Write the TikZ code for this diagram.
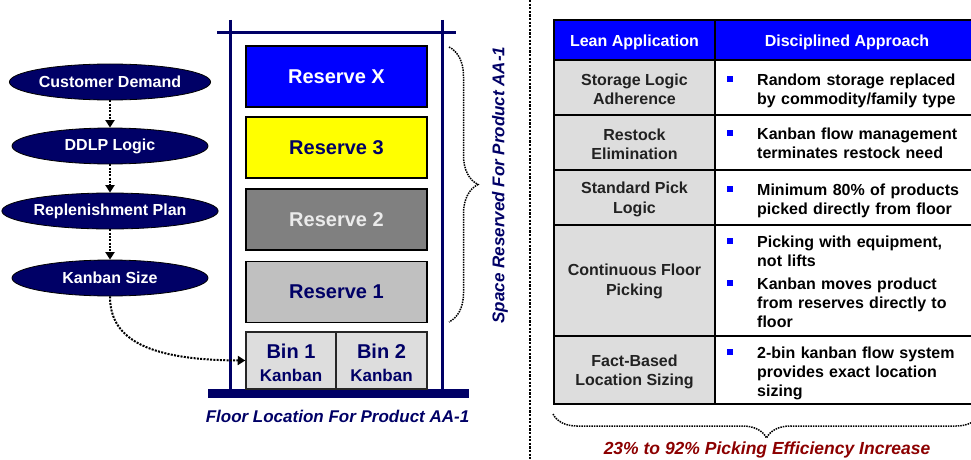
\documentclass[tikz,border=0pt]{standalone}
\usepackage{fontspec}
\setmainfont{Liberation Sans}
\usetikzlibrary{shapes.geometric,arrows.meta,decorations.pathreplacing}
\definecolor{navy}{RGB}{0,0,102}
\definecolor{pureblue}{RGB}{0,0,255}
\definecolor{ltgray}{RGB}{221,221,221}
\definecolor{midgray}{RGB}{128,128,128}
\definecolor{silver}{RGB}{192,192,192}
\definecolor{paleink}{RGB}{235,235,235}
\definecolor{dkred}{RGB}{140,0,0}
\definecolor{cellink}{RGB}{34,34,34}
\definecolor{shelfyellow}{RGB}{255,255,0}

\begin{document}
\begin{tikzpicture}[x=1pt,y=-1pt,
  stage/.style={ellipse, draw=black, line width=0.8pt, fill=navy, minimum width=196pt,
    minimum height=36pt, inner sep=0pt, text=white, font=\bfseries\fontsize{16}{19}\selectfont},
  flow/.style={line width=2pt, dash pattern=on 2pt off 1.3pt,
    -{Triangle[width=9pt,length=7.5pt]}},
  post/.style={navy, line width=3pt},
  shelf/.style={draw=black, line width=1.5pt, minimum width=181pt, minimum height=61pt,
    inner sep=0pt, font=\bfseries\fontsize{20}{24}\selectfont},
  bin/.style={draw=black!85, line width=1.5pt, fill=ltgray, minimum height=57pt, inner sep=0pt},
  bintext/.style={text=navy, align=center, inner sep=0pt,
    font=\bfseries\fontsize{17}{23}\selectfont},
  caption/.style={text=navy, font=\bfseries\itshape\fontsize{17}{20}\selectfont},
  dotbrace/.style={decorate, line width=1.5pt, dash pattern=on 1.5pt off 1pt},
  hcell/.style={draw=black, line width=1.5pt, fill=pureblue, inner sep=0pt,
    minimum height=40pt},
  htext/.style={text=white, inner sep=0pt, font=\bfseries\fontsize{16}{19}\selectfont},
  lcell/.style={draw=black, line width=1.5pt, fill=ltgray, inner sep=0pt, minimum width=161pt},
  ltext/.style={text=cellink, inner sep=0pt, align=center,
    font=\bfseries\fontsize{16}{19.5}\selectfont},
  rcell/.style={draw=black, line width=1.5pt, fill=white, minimum width=264pt, inner sep=0pt},
  bul/.style={fill=pureblue, minimum size=6.5pt, inner sep=0pt},
  itm/.style={anchor=base west, align=left, text width=215pt, inner sep=0pt,
    font=\bfseries\fontsize{16}{19.3}\selectfont}
]
\useasboundingbox (0,0) rectangle (971,460);

% ---- planning chain ----
\node[stage] (cd) at (110,82) {Customer Demand};
\node[stage] (dl) at (110,146) {DDLP Logic};
\node[stage] (rp) at (110,211) {Replenishment Plan};
\node[stage] (ks) at (110,278) {Kanban Size};
\draw[flow] (cd) -- (dl);
\draw[flow] (dl) -- (rp);
\draw[flow] (rp) -- (ks);

% ---- rack frame ----
\draw[post] (230,20) -- (230,390);
\draw[post] (442,20) -- (442,390);
\draw[post] (217,33) -- (456,33);
\fill[navy] (208,389) rectangle (469,398);

% ---- reserve locations ----
\node[shelf, fill=pureblue, text=white] (rx) at (336.5,76.5) {Reserve X};
\node[shelf, fill=shelfyellow, text=navy] (r3) at (336.5,147.5) {Reserve 3};
\node[shelf, fill=midgray, text=paleink] (r2) at (336.5,219.5) {Reserve 2};
\node[shelf, fill=silver, text=navy] (r1) at (336.5,292) {Reserve 1};

% ---- floor bins ----
\node[bin, minimum width=90pt] (b1) at (291,360.5) {};
\node[bin, minimum width=91pt] (b2) at (381.5,360.5) {};
\node[bintext] (lb1) at ([yshift=-2.5pt]b1.center) {{\fontsize{20}{23}\selectfont Bin 1}\\Kanban};
\node[bintext] (lb2) at ([yshift=-2.5pt]b2.center) {{\fontsize{20}{23}\selectfont Bin 2}\\Kanban};

\draw[flow] (ks.south) .. controls (110,335) and (140,360) .. (b1.west);

% ---- labels around the rack ----
\draw[dotbrace, decoration={brace, amplitude=29pt}] (449,47) -- (449,322);
\node[caption, rotate=90] (spc) at (500,185) {Space Reserved For Product AA-1};
\node[caption] (flr) at (337.5,416) {Floor Location For Product AA-1};

% ---- divider ----
\draw[line width=2.2pt, dash pattern=on 2.2pt off 1.4pt] (530,0) -- (530,460);

% ---- table: cells ----
\node[hcell, minimum width=161pt] (h1) at (634.5,40) {};
\node[hcell, minimum width=264pt] (h2) at (847,40) {};
\node[lcell, minimum height=55pt] (a1) at (634.5,87.5) {};
\node[rcell, minimum height=55pt] (c1) at (847,87.5) {};
\node[lcell, minimum height=55pt] (a2) at (634.5,142.5) {};
\node[rcell, minimum height=55pt] (c2) at (847,142.5) {};
\node[lcell, minimum height=55pt] (a3) at (634.5,197.5) {};
\node[rcell, minimum height=55pt] (c3) at (847,197.5) {};
\node[lcell, minimum height=111pt] (a4) at (634.5,280.5) {};
\node[rcell, minimum height=111pt] (c4) at (847,280.5) {};
\node[lcell, minimum height=68pt] (a5) at (634.5,370) {};
\node[rcell, minimum height=68pt] (c5) at (847,370) {};

% ---- table: headings and first column ----
\node[htext] (lh1) at ([yshift=-2pt]h1.center) {Lean Application};
\node[htext] (lh2) at ([yshift=-2pt]h2.center) {Disciplined Approach};
\node[ltext] (la1) at ([yshift=-2pt]a1.center) {Storage Logic\\Adherence};
\node[ltext] (la2) at ([yshift=-2pt]a2.center) {Restock\\Elimination};
\node[ltext] (la3) at ([yshift=-2pt]a3.center) {Standard Pick\\Logic};
\node[ltext] (la4) at ([yshift=-1pt]a4.center) {Continuous Floor\\Picking};
\node[ltext] (la5) at ([yshift=-2pt]a5.center) {Fact-Based\\Location Sizing};

% ---- table: bulleted second column ----
\node[bul] (p1) at (730,79) {};
\node[itm] (t1) at (757,85) {Random storage replaced\\by commodity/family type};
\node[bul] (p2) at (730,133) {};
\node[itm] (t2) at (757,139) {Kanban flow management\\terminates restock need};
\node[bul] (p3) at (730,189) {};
\node[itm] (t3) at (757,195) {Minimum 80\% of products\\picked directly from floor};
\node[bul] (p4) at (730,241) {};
\node[itm] (t4) at (757,247) {Picking with equipment,\\not lifts};
\node[bul] (p5) at (730,283) {};
\node[itm] (t5) at (757,289) {Kanban moves product\\from reserves directly to\\floor};
\node[bul] (p6) at (730,352) {};
\node[itm] (t6) at (757,358) {2-bin kanban flow system\\provides exact location\\sizing};

% ---- result ----
\draw[dotbrace, decoration={brace, amplitude=24pt}] (980,414) -- (553,414);
\node[text=dkred, font=\bfseries\itshape\fontsize{17.5}{21}\selectfont] (gain) at (767,450)
  {23\% to 92\% Picking Efficiency Increase};
\end{tikzpicture}
\end{document}
